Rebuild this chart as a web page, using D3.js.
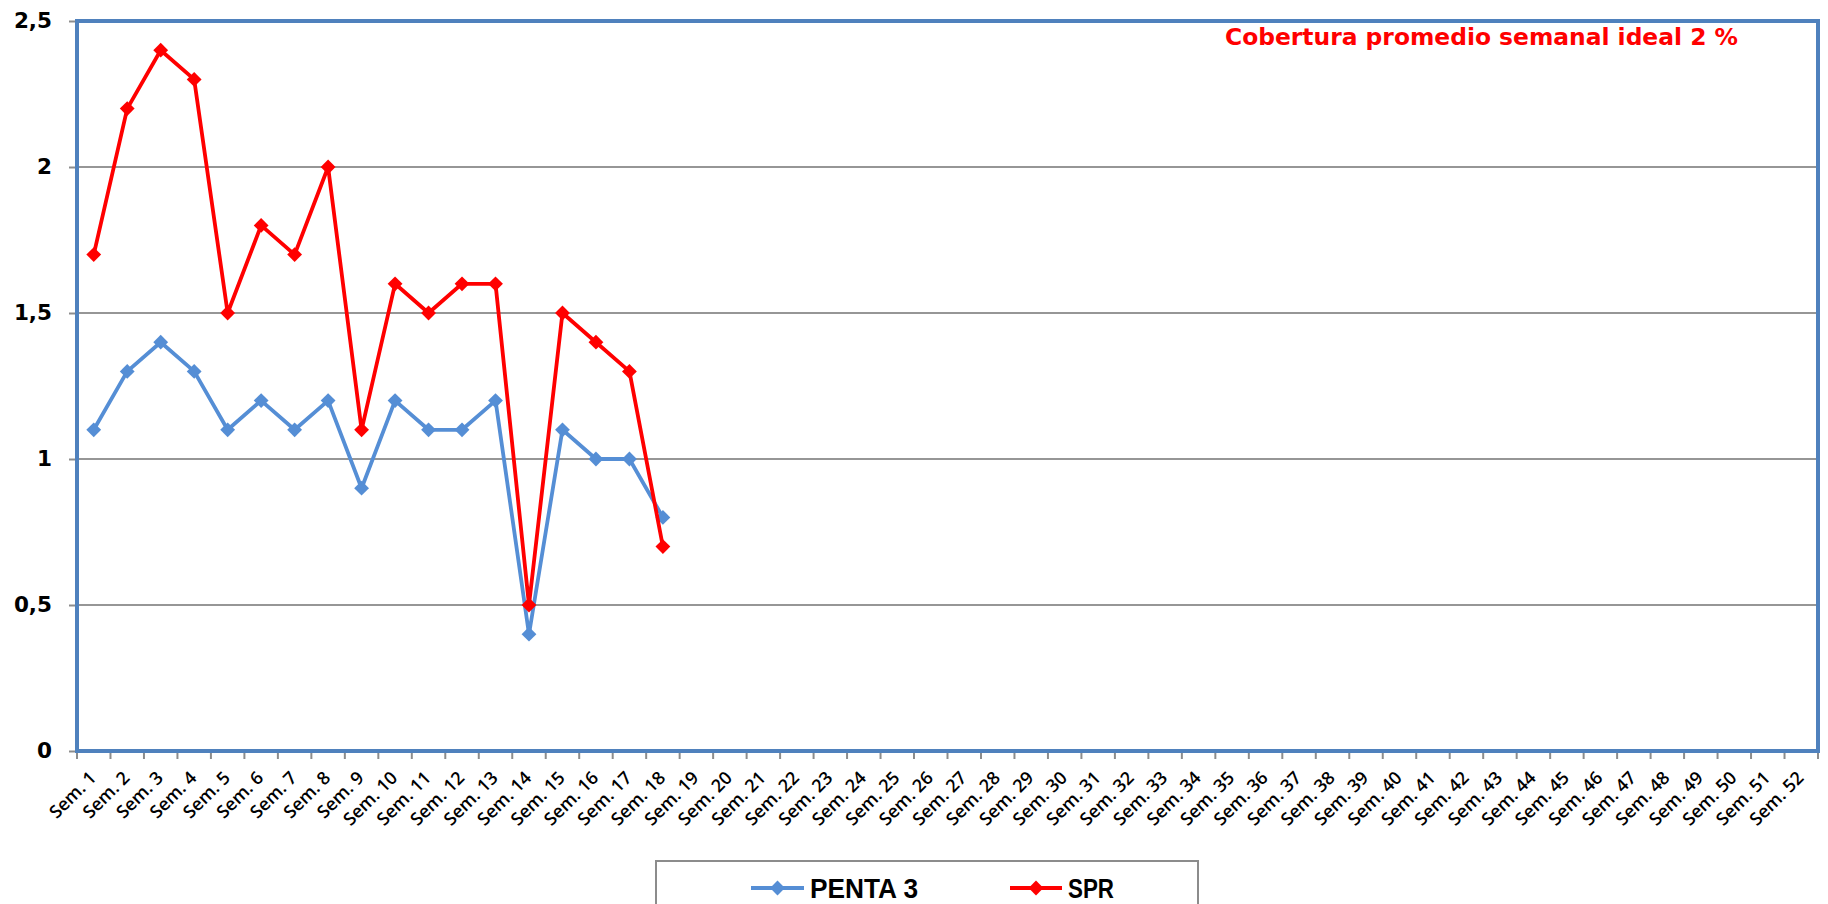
<!DOCTYPE html>
<html><head><meta charset="utf-8">
<script src="https://cdn.jsdelivr.net/npm/d3@7"></script>
<style>html,body{margin:0;padding:0;background:#fff;}</style>
</head><body>
<svg id="chart" width="1828" height="904"></svg>
<script>
const categories = d3.range(1, 53).map(i => "Sem. " + i);
const penta3 = [1.1, 1.3, 1.4, 1.3, 1.1, 1.2, 1.1, 1.2, 0.9, 1.2, 1.1, 1.1, 1.2, 0.4, 1.1, 1.0, 1.0, 0.8];
const spr = [1.7, 2.2, 2.4, 2.3, 1.5, 1.8, 1.7, 2.0, 1.1, 1.6, 1.5, 1.6, 1.6, 0.5, 1.5, 1.4, 1.3, 0.7];
const yTicks = [0, 0.5, 1, 1.5, 2, 2.5];
const yTickLabels = ["0", "0,5", "1", "1,5", "2", "2,5"];
const seriesNames = ["PENTA 3", "SPR"];
const titleText = "Cobertura promedio semanal ideal 2 %";

const svg = d3.select("#chart");
const L = 77, R = 1818, T = 21, B = 751;
const x = d3.scaleBand().domain(categories).range([L, R]);
const y = d3.scaleLinear().domain([0, 2.5]).range([B, T]);
const colors = {"PENTA 3": "#558ed5", "SPR": "#ff0000"};
const font = "'Open Sans', sans-serif";

// gridlines
svg.append("g").selectAll("line").data(yTicks.filter(v => v > 0 && v < 2.5)).join("line")
  .attr("x1", L).attr("x2", R).attr("y1", d => y(d)).attr("y2", d => y(d))
  .attr("stroke", "#969696").attr("stroke-width", 1.8);

// y axis
const yAxis = d3.axisLeft(y).tickValues(yTicks).tickSize(8).tickPadding(17)
  .tickFormat((d, i) => yTickLabels[i]);
const gy = svg.append("g").attr("transform", `translate(${L},0)`).call(yAxis);
gy.select(".domain").remove();
gy.selectAll(".tick line").attr("stroke", "#8c8c8c").attr("stroke-width", 2);
gy.selectAll(".tick text").attr("font-family", "'DejaVu Sans', sans-serif")
  .attr("font-weight", "bold").attr("font-size", 21.5).attr("fill", "#000");

// x axis ticks at boundaries
svg.append("g").selectAll("line").data(d3.range(0, 53)).join("line")
  .attr("x1", d => L + d * x.step()).attr("x2", d => L + d * x.step())
  .attr("y1", B).attr("y2", B + 8).attr("stroke", "#8c8c8c").attr("stroke-width", 2);

// x labels
svg.append("g").selectAll("text").data(categories).join("text")
  .attr("transform", d => `translate(${x(d) + x.bandwidth() / 2 + 3.5},${B + 28}) rotate(-45)`)
  .attr("text-anchor", "end")
  .attr("font-family", font).attr("font-weight", 600).attr("font-size", 18)
  .attr("fill", "#000").text(d => d);

// plot border
svg.append("rect").attr("x", L).attr("y", T).attr("width", R - L).attr("height", B - T)
  .attr("fill", "none").attr("stroke", "#4f81bd").attr("stroke-width", 4);

// series
const line = d3.line().x((d, i) => x(categories[i]) + x.bandwidth() / 2).y(d => y(d));
const diamond = d3.symbol().type(d3.symbolDiamond2).size(140);
[[penta3, "PENTA 3"], [spr, "SPR"]].forEach(([vals, name]) => {
  const g = svg.append("g");
  g.append("path").datum(vals).attr("d", line).attr("fill", "none")
    .attr("stroke", colors[name]).attr("stroke-width", 3.8).attr("stroke-linejoin", "round");
  g.selectAll("path.m").data(vals).join("path").attr("class", "m")
    .attr("d", diamond)
    .attr("transform", (d, i) => `translate(${x(categories[i]) + x.bandwidth() / 2},${y(d)})`)
    .attr("fill", colors[name]);
});

// title
svg.append("text").attr("x", 1225).attr("y", 45)
  .attr("font-family", "'DejaVu Sans', sans-serif").attr("font-weight", "bold")
  .attr("font-size", 22.5).attr("fill", "#ff0000")
  .attr("textLength", 513).attr("lengthAdjust", "spacingAndGlyphs").text(titleText);

// legend
svg.append("rect").attr("x", 656).attr("y", 861).attr("width", 542).attr("height", 60)
  .attr("fill", "#fff").attr("stroke", "#8c8c8c").attr("stroke-width", 2);
const legItems = [{name: "PENTA 3", x1: 751, x2: 804, tx: 810, tw: 108},
                  {name: "SPR", x1: 1010, x2: 1062, tx: 1068, tw: 46}];
legItems.forEach(it => {
  const ly = 888;
  svg.append("line").attr("x1", it.x1).attr("x2", it.x2).attr("y1", ly).attr("y2", ly)
    .attr("stroke", colors[it.name]).attr("stroke-width", 3.8);
  svg.append("path").attr("d", diamond).attr("transform", `translate(${(it.x1 + it.x2) / 2},${ly})`)
    .attr("fill", colors[it.name]);
  svg.append("text").attr("x", it.tx).attr("y", ly).attr("dy", "0.36em")
    .attr("font-family", "'Liberation Sans', Arial, sans-serif").attr("font-weight", "bold")
    .attr("font-size", 27).attr("fill", "#000")
    .attr("textLength", it.tw).attr("lengthAdjust", "spacingAndGlyphs").text(it.name);
});
</script>
</body></html>
